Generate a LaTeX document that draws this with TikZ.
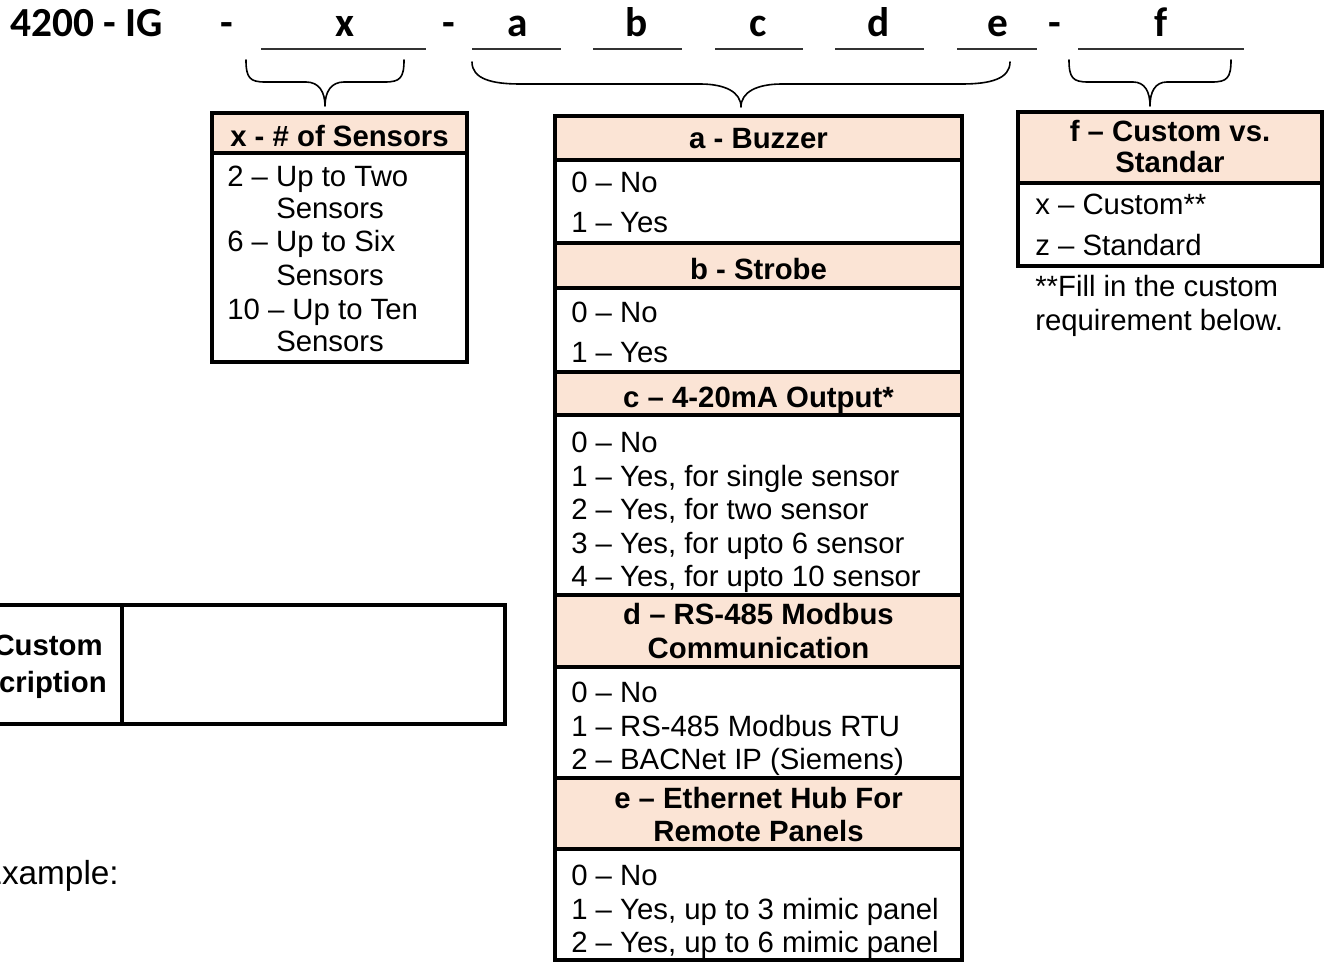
\documentclass[tikz,border=0pt]{standalone}
\usepackage{fontspec}
\newfontfamily\arialf{Liberation Sans}
\newfontfamily\calf{Carlito}
\definecolor{peach}{HTML}{FBE4D5}
\begin{document}
\begin{tikzpicture}[x=0.75pt,y=-0.75pt,
  body/.style={anchor=base west,inner sep=0pt,font=\arialf\fontsize{22}{26}\selectfont},
  head/.style={anchor=base,inner sep=0pt,font=\arialf\bfseries\fontsize{22}{26}\selectfont},
  ttl/.style={anchor=base,inner sep=0pt,font=\calf\bfseries\fontsize{31}{36}\selectfont},
  uline/.style={line width=0.9pt,draw=black!80},
  bracestyle/.style={line width=1.2pt,line cap=round,line join=round},
  frame/.style={line width=2.7pt},
  sepline/.style={line width=2.3pt},
  hfill/.style={fill=peach}]
\fill[white] (0,0) rectangle (1328,962);
\clip (0,0) rectangle (1328,962);

% ---------- title ----------
\node[ttl,anchor=base west] (t0) at (10,37) {4200 - IG};
\node[ttl] (d1) at (227,37) {-};
\node[ttl] (lx) at (345,37) {x};
\node[ttl] (d2) at (449,37) {-};
\node[ttl] (la) at (518,37) {a};
\node[ttl] (lb) at (637,37) {b};
\node[ttl] (lc) at (758,37) {c};
\node[ttl] (ld) at (879,37) {d};
\node[ttl] (le) at (998,37) {e};
\node[ttl] (d3) at (1055,37) {-};
\node[ttl] (lf) at (1161,37) {f};

\draw[uline] (261,49) -- (426,49);
\draw[uline] (472,49) -- (561,49);
\draw[uline] (593,49) -- (682,49);
\draw[uline] (715,49) -- (803,49);
\draw[uline] (835,49) -- (924,49);
\draw[uline] (957,49) -- (1037,49);
\draw[uline] (1078,49) -- (1244,49);

% ---------- braces ----------
\coordinate (xtip) at (325,106);
\coordinate (mtip) at (741,107);
\coordinate (ftip) at (1150,106);
\draw[bracestyle] (246,60) .. controls (246,78) and (250,82) .. (265,82) -- (306,82)
  .. controls (319,82) and (325,92) .. (xtip)
  .. controls (325,92) and (331,82) .. (344,82) -- (385,82)
  .. controls (400,82) and (404,78) .. (404,60);
\draw[bracestyle] (472,62) .. controls (472,79) and (492,84) .. (520,84) -- (700,84)
  .. controls (725,84) and (741,92) .. (mtip)
  .. controls (741,92) and (757,84) .. (782,84) -- (962,84)
  .. controls (990,84) and (1010,79) .. (1010,62);
\draw[bracestyle] (1069,60) .. controls (1069,78) and (1073,82) .. (1088,82) -- (1133,82)
  .. controls (1145,82) and (1150,92) .. (ftip)
  .. controls (1150,92) and (1155,82) .. (1167,82) -- (1212,82)
  .. controls (1227,82) and (1231,78) .. (1231,60);

% ---------- x box ----------
\fill[hfill] (212,113) rectangle (467,153);
\draw[sepline] (212,153) -- (467,153);
\draw[frame] (212,113) rectangle (467,362);
\node[head] (xh) at (339.5,147) {x - \# of Sensors};
\node[body] (x1) at (227,187) {2 – Up to Two};
\node[body] (x2) at (276,219) {Sensors};
\node[body] (x3) at (227,252) {6 – Up to Six};
\node[body] (x4) at (276,286) {Sensors};
\node[body] (x5) at (227,320) {10 – Up to Ten};
\node[body] (x6) at (276,352) {Sensors};

% ---------- middle box ----------
\fill[hfill] (555,116) rectangle (962,160);
\fill[hfill] (555,243) rectangle (962,288);
\fill[hfill] (555,372) rectangle (962,415);
\fill[hfill] (555,595) rectangle (962,667);
\fill[hfill] (555,778) rectangle (962,849);
\foreach \yy in {160,243,288,372,415,595,667,778,849}
  \draw[sepline] (555,\yy) -- (962,\yy);
\draw[frame] (555,116) rectangle (962,960);

\node[head] (ah) at (758.5,149) {a - Buzzer};
\node[body] (a0) at (571,193) {0 – No};
\node[body] (a1) at (571,233) {1 – Yes};
\node[head] (bh) at (758.5,280) {b - Strobe};
\node[body] (b0) at (571,323) {0 – No};
\node[body] (b1) at (571,363) {1 – Yes};
\node[head] (ch) at (758.5,408) {c – 4-20mA Output*};
\node[body] (c0) at (571,452) {0 – No};
\node[body] (c1) at (571,486) {1 – Yes, for single sensor};
\node[body] (c2) at (571,519) {2 – Yes, for two sensor};
\node[body] (c3) at (571,553) {3 – Yes, for upto 6 sensor};
\node[body] (c4) at (571,586) {4 – Yes, for upto 10 sensor};
\node[head] (dh1) at (758.5,624) {d – RS-485 Modbus};
\node[head] (dh2) at (758.5,658) {Communication};
\node[body] (d0) at (571,702) {0 – No};
\node[body] (dd1) at (571,736) {1 – RS-485 Modbus RTU};
\node[body] (dd2) at (571,769) {2 – BACNet IP (Siemens)};
\node[head] (eh1) at (758.5,808) {e – Ethernet Hub For};
\node[head] (eh2) at (758.5,841) {Remote Panels};
\node[body] (e0) at (571,885) {0 – No};
\node[body] (e1) at (571,919) {1 – Yes, up to 3 mimic panel};
\node[body] (e2) at (571,952) {2 – Yes, up to 6 mimic panel};

% ---------- f box ----------
\fill[hfill] (1018,112) rectangle (1322,183);
\draw[sepline] (1018,183) -- (1322,183);
\draw[frame] (1018,112) rectangle (1322,266);
\node[head] (fh1) at (1170,142) {f – Custom vs.};
\node[head] (fh2) at (1170,173) {Standar};
\node[body] (f1) at (1035,215) {x – Custom**};
\node[body] (f2) at (1035,256) {z – Standard};
\node[body] (fn1) at (1035,297) {**Fill in the custom};
\node[body] (fn2) at (1035,331) {requirement below.};

% ---------- custom description ----------
\draw[frame] (-20,605) rectangle (505,724);
\draw[sepline] (122,605) -- (122,724);
\node[head,anchor=base east] (cd1) at (103,655) {Custom};
\node[head,anchor=base east] (cd2) at (107,692) {Description};

% ---------- example ----------
\node[body,anchor=base east,font=\arialf\fontsize{25}{30}\selectfont] (ex) at (119,884) {Example:};
\end{tikzpicture}
\end{document}
